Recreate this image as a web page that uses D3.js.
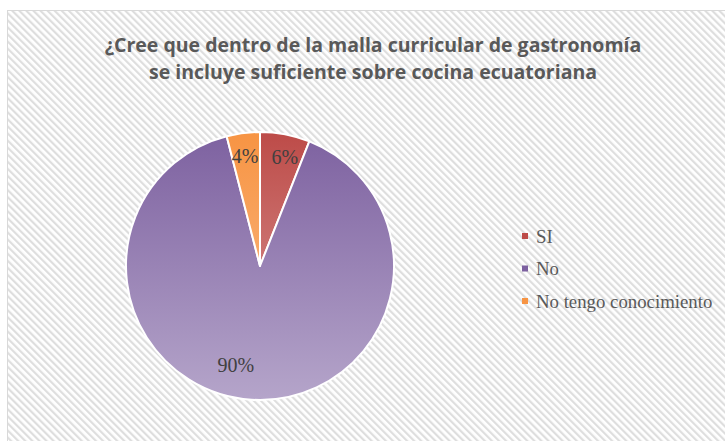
<!DOCTYPE html>
<html>
<head>
<meta charset="utf-8">
<script src="https://cdn.jsdelivr.net/npm/d3@7"></script>
<style>
  body { margin: 0; background: #fff; }
  .title { font-family: 'Open Sans', sans-serif; font-weight: bold; fill: #595959; }
  .label { font-family: 'Liberation Serif', serif; fill: #404040; }
  .legend text { font-family: 'Liberation Serif', serif; fill: #595959; }
</style>
</head>
<body>
<svg width="725" height="441"></svg>
<script>
const categories = ['SI', 'No', 'No tengo conocimiento'];
const values = [6, 90, 4];
const labels = ['6%', '90%', '4%'];
const titleLines = ['¿Cree que dentro de la malla curricular de gastronomía',
                    'se incluye suficiente sobre cocina ecuatoriana'];

const svg = d3.select('svg');
const width = +svg.attr('width');
const height = +svg.attr('height');

const defs = svg.append('defs');

// striped background
const pat = defs.append('pattern')
  .attr('id', 'stripes')
  .attr('patternUnits', 'userSpaceOnUse')
  .attr('width', 5).attr('height', 5)
  .attr('patternTransform', 'rotate(-45)');
pat.append('rect').attr('width', 5).attr('height', 5).attr('fill', '#ffffff');
pat.append('rect').attr('width', 2.2).attr('height', 5).attr('fill', '#dedede');

svg.append('rect')
  .attr('x', 7.5).attr('y', 10.5)
  .attr('width', width).attr('height', height)
  .attr('fill', 'url(#stripes)')
  .attr('stroke', '#d9d9d9');

const title = svg.append('text').attr('class', 'title')
  .attr('text-anchor', 'middle')
  .style('font-size', '19.5px');
titleLines.forEach((t, i) => {
  title.append('tspan').attr('x', 373).attr('y', 52 + i * 27).text(t);
});

// pie
const cx = 260, cy = 266, r = 134;
const topColors = ['#bd4b48', '#7d61a0', '#f79443'];
const botColors = ['#dca09e', '#b5a5ca', '#fac090'];

topColors.forEach((c, i) => {
  const gr = defs.append('linearGradient')
    .attr('id', 'grad' + i)
    .attr('gradientUnits', 'userSpaceOnUse')
    .attr('x1', 0).attr('x2', 0)
    .attr('y1', -r).attr('y2', r);
  gr.append('stop').attr('offset', 0).attr('stop-color', c);
  gr.append('stop').attr('offset', 1).attr('stop-color', botColors[i]);
});

const pie = d3.pie().sort(null).value(d => d);
const arcs = pie(values);
const arc = d3.arc().innerRadius(0).outerRadius(r);

const g = svg.append('g').attr('transform', `translate(${cx},${cy})`);

g.selectAll('path').data(arcs)
  .enter().append('path')
    .attr('d', arc)
    .attr('fill', (d, i) => `url(#grad${i})`)
    .attr('stroke', '#fff')
    .attr('stroke-width', 2)
    .attr('stroke-linejoin', 'round');

// data labels
const labelRadius = [0.83, 0.74, 0.83];
const labelShift = [4, -18, -1];
g.selectAll('.label').data(arcs)
  .enter().append('text')
    .attr('class', 'label')
    .attr('text-anchor', 'middle')
    .attr('dy', '0.35em')
    .style('font-size', '20px')
    .attr('x', (d, i) => d3.arc().innerRadius(r * labelRadius[i]).outerRadius(r * labelRadius[i]).centroid(d)[0] + labelShift[i])
    .attr('y', (d, i) => d3.arc().innerRadius(r * labelRadius[i]).outerRadius(r * labelRadius[i]).centroid(d)[1])
    .text((d, i) => labels[i]);

// legend
const legend = svg.append('g').attr('class', 'legend')
  .attr('transform', 'translate(522,236)');
const row = legend.selectAll('g').data(categories)
  .enter().append('g')
    .attr('transform', (d, i) => `translate(0,${i * 32.5})`);
row.append('rect')
  .attr('x', 0).attr('y', -3)
  .attr('width', 6).attr('height', 6)
  .attr('fill', (d, i) => topColors[i]);
row.append('text')
  .attr('x', 14).attr('dy', '0.35em')
  .style('font-size', '18.8px')
  .text(d => d);
</script>
</body>
</html>
